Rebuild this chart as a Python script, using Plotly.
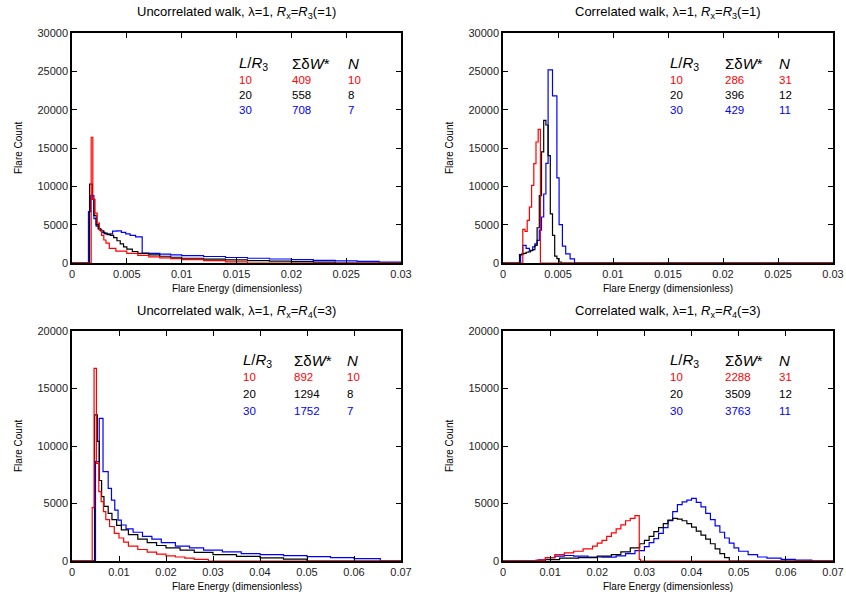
import plotly.graph_objects as go

W, H = 846, 594

# ---------------- data (bin edges and counts) ----------------
# Panel 1: Uncorrelated walk, Rx=R3
p1_red_edges = [0.00175, 0.0019, 0.0021, 0.0023, 0.0025, 0.0027, 0.0029, 0.0031, 0.0034, 0.004, 0.005,
                0.006, 0.007, 0.008, 0.009, 0.010, 0.012, 0.014, 0.016]
p1_red_counts = [16400, 8300, 6500, 5200, 4300, 3600, 3000, 2600, 1900, 1550, 1250, 1000, 800, 680, 570,
                 450, 300, 150]
p1_black_edges = [0.0016, 0.00185, 0.0020, 0.0022, 0.0024, 0.0026, 0.0029, 0.0032, 0.0035, 0.0038, 0.0041,
                  0.0044, 0.0047, 0.005, 0.0055, 0.006, 0.007, 0.008, 0.009, 0.010, 0.012, 0.014, 0.016,
                  0.018, 0.020, 0.022, 0.024]
p1_black_counts = [10300, 8300, 6200, 5000, 4500, 4200, 3900, 3700, 3600, 3300, 2900, 2500, 2100, 1800, 1500,
                   1250, 1050, 880, 750, 620, 500, 400, 320, 250, 180, 110]
p1_blue_edges = [0.0015, 0.0017, 0.0020, 0.0022, 0.0024, 0.0027, 0.0030, 0.0033, 0.0037, 0.0041, 0.0045,
                 0.0049, 0.0053, 0.0058, 0.0064, 0.007, 0.008, 0.009, 0.010, 0.012, 0.014, 0.016, 0.018,
                 0.020, 0.022, 0.024, 0.026, 0.028, 0.030]
p1_blue_counts = [6700, 8800, 5800, 4800, 4400, 4000, 3800, 3800, 4150, 4200, 4000, 3800, 3600, 3400, 1300,
                  1250, 1150, 1050, 950, 850, 720, 620, 520, 430, 350, 270, 200, 120]

# Panel 2: Correlated walk, Rx=R3
p2_red_edges = [0.0018, 0.0020, 0.0022, 0.0024, 0.0026, 0.0028, 0.0030, 0.0032, 0.0034]
p2_red_counts = [4390, 4130, 5570, 7300, 10130, 12960, 15780, 17430]
p2_black_edges = [0.0015, 0.0017, 0.0019, 0.0021, 0.0023, 0.0025, 0.0027, 0.0029, 0.0031, 0.0033, 0.0035,
                  0.0037, 0.0039, 0.0041, 0.0043, 0.0045, 0.0047, 0.0049, 0.0051, 0.0053]
p2_black_counts = [1100, 1200, 1250, 1400, 1450, 1600, 1750, 2300, 4600, 8800, 14500, 18600, 18000, 14000,
                   6400, 3600, 900, 560, 130]
p2_blue_edges = [0.0016, 0.0018, 0.0021, 0.0024, 0.0027, 0.0029, 0.0031, 0.0033, 0.0035, 0.0037, 0.0039,
                 0.0041, 0.0045, 0.0049, 0.0051, 0.0054, 0.0057, 0.0061, 0.0065]
p2_blue_counts = [1100, 2300, 1900, 1650, 2100, 2500, 2960, 4300, 6000, 9000, 13000, 25200, 21800, 11100,
                  5000, 2200, 1200, 550]

# Panel 3: Uncorrelated walk, Rx=R4
p3_red_edges = [0.0043, 0.0047, 0.0052, 0.0057, 0.0062, 0.0067, 0.0072, 0.008, 0.009, 0.010, 0.011, 0.012,
                0.014, 0.016, 0.018, 0.020, 0.022, 0.024, 0.026, 0.029]
p3_red_counts = [4640, 16750, 8490, 6030, 5160, 4290, 3600, 3000, 2400, 2000, 1650, 1300, 1000, 780, 600,
                 450, 350, 250, 150]
p3_black_edges = [0.0048, 0.0054, 0.0058, 0.0063, 0.0068, 0.0077, 0.0085, 0.0095, 0.0105, 0.012, 0.014,
                  0.016, 0.018, 0.020, 0.023, 0.026, 0.030, 0.035, 0.040, 0.045, 0.050]
p3_black_counts = [12700, 10400, 7000, 5600, 4750, 4150, 3600, 3100, 2700, 2300, 1900, 1600, 1350, 1150, 950,
                   750, 550, 400, 280, 170]
p3_blue_edges = [0.0050, 0.0058, 0.0066, 0.0077, 0.0084, 0.0091, 0.0098, 0.0105, 0.0115, 0.013, 0.015,
                 0.017, 0.019, 0.022, 0.025, 0.028, 0.032, 0.036, 0.040, 0.045, 0.050, 0.055, 0.060, 0.0656]
p3_blue_counts = [8640, 12400, 7770, 6320, 5300, 4430, 3560, 3130, 2800, 2500, 2150, 1900, 1600, 1300, 1150,
                  950, 800, 650, 550, 460, 380, 300, 200]

# Panel 4: Correlated walk, Rx=R4
p4_red_edges = [0.007, 0.009, 0.011, 0.013, 0.015, 0.017, 0.019, 0.020, 0.021, 0.022, 0.023, 0.024, 0.025,
                0.026, 0.027, 0.028, 0.0289, 0.0292]
p4_red_counts = [80, 300, 550, 700, 850, 1050, 1300, 1550, 1800, 2150, 2450, 2800, 3150, 3500, 3700, 3950, 150]
p4_black_edges = [0.009, 0.012, 0.016, 0.020, 0.023, 0.025, 0.027, 0.029, 0.030, 0.031, 0.032, 0.033, 0.034,
                  0.035, 0.036, 0.037, 0.038, 0.039, 0.040, 0.041, 0.042, 0.043, 0.044, 0.045, 0.046, 0.047,
                  0.048]
p4_black_counts = [120, 250, 300, 420, 560, 800, 1150, 1500, 1800, 2150, 2550, 2900, 3250, 3550, 3700, 3650,
                   3500, 3250, 2950, 2600, 2250, 1900, 1500, 1050, 650, 300]
p4_blue_edges = [0.0075, 0.009, 0.011, 0.013, 0.015, 0.018, 0.021, 0.024, 0.026, 0.028, 0.030, 0.031, 0.032,
                 0.033, 0.034, 0.035, 0.036, 0.037, 0.038, 0.039, 0.040, 0.041, 0.042, 0.043, 0.044, 0.045,
                 0.046, 0.047, 0.048, 0.049, 0.050, 0.052, 0.054, 0.056, 0.059, 0.062, 0.0655]
p4_blue_counts = [100, 300, 420, 480, 420, 350, 330, 450, 650, 900, 1250, 1600, 1950, 2400, 2900, 3500, 4300,
                  4900, 5150, 5300, 5450, 5100, 4700, 4150, 3600, 3050, 2500, 2000, 1550, 1150, 850, 550, 350,
                  250, 150, 80]

titles = [
    "Uncorrelated walk, λ=1, <i>R</i><sub>x</sub>=<i>R</i><sub>3</sub>(=1)",
    "Correlated walk, λ=1, <i>R</i><sub>x</sub>=<i>R</i><sub>3</sub>(=1)",
    "Uncorrelated walk, λ=1, <i>R</i><sub>x</sub>=<i>R</i><sub>4</sub>(=3)",
    "Correlated walk, λ=1, <i>R</i><sub>x</sub>=<i>R</i><sub>4</sub>(=3)",
]
table_L = ["10", "20", "30"]
table_W = [["409", "558", "708"], ["286", "396", "429"], ["892", "1294", "1752"], ["2288", "3509", "3763"]]
table_N = [["10", "8", "7"], ["31", "12", "11"], ["10", "8", "7"], ["31", "12", "11"]]

x_ticks_top = [0, 0.005, 0.01, 0.015, 0.02, 0.025, 0.03]
x_ticklabels_top = ["0", "0.005", "0.01", "0.015", "0.02", "0.025", "0.03"]
x_ticks_bot = [0, 0.01, 0.02, 0.03, 0.04, 0.05, 0.06, 0.07]
x_ticklabels_bot = ["0", "0.01", "0.02", "0.03", "0.04", "0.05", "0.06", "0.07"]
y_ticks_top = [0, 5000, 10000, 15000, 20000, 25000, 30000]
y_ticklabels_top = ["0", "5000", "10000", "15000", "20000", "25000", "30000"]
y_ticks_bot = [0, 5000, 10000, 15000, 20000]
y_ticklabels_bot = ["0", "5000", "10000", "15000", "20000"]

COLORS = ["#ff0000", "#000000", "#0000ff"]
FONT = "Liberation Sans, Arial, Helvetica, sans-serif"

# ---------------- layout geometry (pixels) ----------------
panels_px = [  # left, right, top, bottom
    (72, 401, 33, 263),
    (503, 833, 33, 263),
    (72, 401, 331, 561),
    (503, 833, 331, 561),
]


def px_x(x):
    return x / W


def px_y(y):
    return 1 - y / H


series = [
    [(p1_blue_edges, p1_blue_counts, 2), (p1_black_edges, p1_black_counts, 1), (p1_red_edges, p1_red_counts, 0)],
    [(p2_blue_edges, p2_blue_counts, 2), (p2_black_edges, p2_black_counts, 1), (p2_red_edges, p2_red_counts, 0)],
    [(p3_blue_edges, p3_blue_counts, 2), (p3_black_edges, p3_black_counts, 1), (p3_red_edges, p3_red_counts, 0)],
    [(p4_blue_edges, p4_blue_counts, 2), (p4_black_edges, p4_black_counts, 1), (p4_red_edges, p4_red_counts, 0)],
]
xmax = [0.03, 0.03, 0.07, 0.07]
ymax = [30000, 30000, 20000, 20000]

fig = go.Figure()
layout = dict(
    width=W, height=H, autosize=False, margin=dict(l=0, r=0, t=0, b=0, pad=0),
    paper_bgcolor="white", plot_bgcolor="white", showlegend=False,
    font=dict(family=FONT, color="#000000", size=11),
)
annotations = []

for i in range(4):
    xa = "x" if i == 0 else f"x{i+1}"
    ya = "y" if i == 0 else f"y{i+1}"
    xkey = "xaxis" if i == 0 else f"xaxis{i+1}"
    ykey = "yaxis" if i == 0 else f"yaxis{i+1}"
    l, r, t, b = panels_px[i]
    top = i < 2
    for edges, counts, ci in series[i]:
        xs = [0] + list(edges) + [xmax[i]]
        ys = [0] + list(counts) + [0, 0]
        fig.add_trace(go.Scatter(x=xs, y=ys, mode="lines", line=dict(shape="hv", color=COLORS[ci], width=1.2),
                                 xaxis=xa, yaxis=ya, hoverinfo="skip"))
    layout[xkey] = dict(
        domain=[px_x(l), px_x(r)], range=[0, xmax[i]], anchor=ya, automargin=False,
        tickvals=x_ticks_top if top else x_ticks_bot,
        ticktext=x_ticklabels_top if top else x_ticklabels_bot,
        ticks="inside", ticklen=5, tickwidth=1, tickcolor="#000", mirror="ticks",
        showline=True, linecolor="#000", linewidth=1.5, showgrid=False, zeroline=False,
        tickfont=dict(size=11, family=FONT, color="#222"),
    )
    layout[ykey] = dict(
        domain=[px_y(b), px_y(t)], range=[0, ymax[i]], anchor=xa, automargin=False,
        tickvals=y_ticks_top if top else y_ticks_bot,
        ticktext=y_ticklabels_top if top else y_ticklabels_bot,
        ticks="inside", ticklen=5, tickwidth=1, tickcolor="#000", mirror="ticks",
        showline=True, linecolor="#000", linewidth=1.5, showgrid=False, zeroline=False,
        tickfont=dict(size=11, family=FONT, color="#222"),
    )
    cx = (l + r) / 2
    # title
    annotations.append(dict(text=titles[i], x=px_x(cx), y=px_y(t - 20), xref="paper", yref="paper",
                            xanchor="center", yanchor="middle", showarrow=False,
                            font=dict(size=13, family=FONT, color="#000")))
    # axis titles
    annotations.append(dict(text="Flare Energy (dimensionless)", x=px_x(cx), y=px_y(b + 25), xref="paper",
                            yref="paper", xanchor="center", yanchor="middle", showarrow=False,
                            font=dict(size=10, family=FONT, color="#000")))
    annotations.append(dict(text="Flare Count", x=px_x(l - 54), y=px_y((t + b) / 2), xref="paper",
                            yref="paper", xanchor="center", yanchor="middle", showarrow=False, textangle=-90,
                            font=dict(size=10, family=FONT, color="#000")))
    # table
    col_x = [l + 165, l + 218, l + 274] if i % 2 == 0 else [l + 165, l + 220, l + 274]
    if i == 2:
        col_x = [l + 169, l + 220, l + 273]
    hy = t + 30
    row_y = [t + 47, t + 62, t + 77]
    if i >= 2:
        hy = t + 29
        row_y = [t + 46, t + 63, t + 80]
    for txt, cxp in zip(["<i>L</i>/<i>R</i><sub>3</sub>", "Σδ<i>W</i>*", "<i>N</i>"], col_x):
        annotations.append(dict(text=txt, x=px_x(cxp), y=px_y(hy), xref="paper", yref="paper",
                                xanchor="left", yanchor="middle", showarrow=False,
                                font=dict(size=15, family=FONT, color="#000")))
    for k in range(3):
        for txt, cxp in zip([table_L[k], table_W[i][k], table_N[i][k]], col_x):
            annotations.append(dict(text=txt, x=px_x(cxp), y=px_y(row_y[k]), xref="paper", yref="paper",
                                    xanchor="left", yanchor="middle", showarrow=False,
                                    font=dict(size=11.5, family=FONT, color=COLORS[k])))

layout["annotations"] = annotations
fig.update_layout(**layout)
fig.write_html(
    "out.html",
    config={"responsive": False, "displayModeBar": False},
    post_script="document.body.style.margin='0';document.body.style.padding='0';",
)
